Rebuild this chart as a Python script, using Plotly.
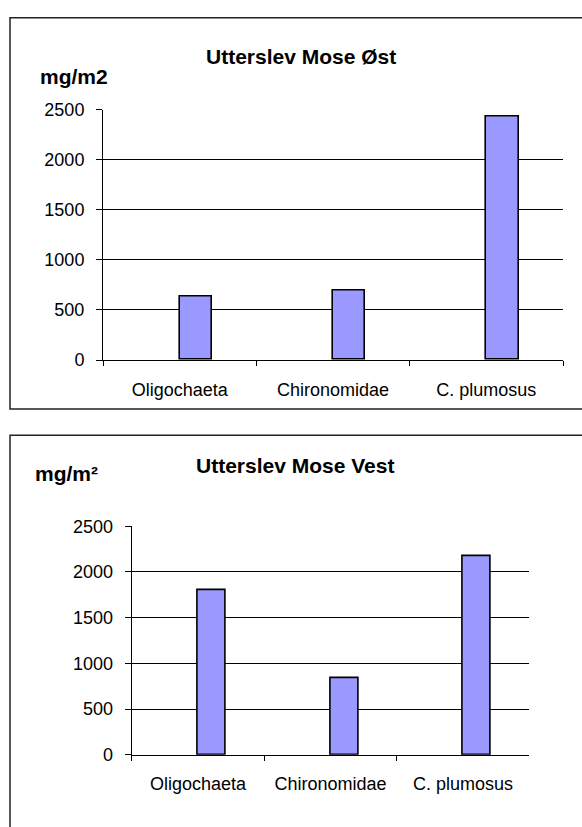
import plotly.graph_objects as go

# data
categories = ["Oligochaeta", "Chironomidae", "C. plumosus"]
ost_values = [637, 691, 2432]
vest_values = [1803, 843, 2177]
y_ticks = [0, 500, 1000, 1500, 2000, 2500]

W, H = 582, 827
FONT = "Liberation Sans, Arial, sans-serif"


def px(x):
    return x / W


def py(y):
    return 1 - y / H


fig = go.Figure()

fig.add_trace(go.Bar(
    x=categories, y=ost_values, xaxis="x", yaxis="y",
    width=0.21, offset=0,
    marker=dict(color="#9999FF", line=dict(color="black", width=1.6)),
    showlegend=False, hoverinfo="skip",
))
fig.add_trace(go.Bar(
    x=categories, y=vest_values, xaxis="x2", yaxis="y2",
    width=0.21, offset=0,
    marker=dict(color="#9999FF", line=dict(color="black", width=1.6)),
    showlegend=False, hoverinfo="skip",
))

xaxis_style = dict(
    type="category", range=[-0.5, 2.5],
    showline=True, linecolor="black", linewidth=1,
    ticks="outside", tickson="boundaries", ticklen=5, tickcolor="black",
    showgrid=False, tickfont=dict(family=FONT, size=18, color="black"),
    ticklabelstandoff=13, fixedrange=True,
)
yaxis_style = dict(
    range=[0, 2500], tickvals=y_ticks,
    showline=True, linecolor="black", linewidth=1,
    ticks="outside", ticklen=6, tickcolor="black",
    showgrid=True, gridcolor="black", gridwidth=1, zeroline=False,
    tickfont=dict(family=FONT, size=18, color="black"),
    ticklabelstandoff=8, fixedrange=True,
)

fig.update_layout(
    width=W, height=H,
    margin=dict(l=0, r=0, t=0, b=0),
    paper_bgcolor="white", plot_bgcolor="white",
    bargap=0,
    xaxis=dict(xaxis_style, domain=[px(103), px(563)], anchor="y"),
    yaxis=dict(yaxis_style, domain=[py(358.7), py(102)], anchor="x"),
    xaxis2=dict(xaxis_style, domain=[px(131.7), px(529.3)], anchor="y2"),
    yaxis2=dict(yaxis_style, domain=[py(763.3), py(529)], anchor="x2"),
)

# frames around the two charts
fig.add_shape(type="rect", xref="paper", yref="paper",
              x0=px(10), x1=px(590), y0=py(409), y1=py(8),
              line=dict(color="#222222", width=1.5))
fig.add_shape(type="rect", xref="paper", yref="paper",
              x0=px(10), x1=px(590), y0=py(900), y1=py(435.7),
              line=dict(color="#222222", width=1.5))

# titles and units
fig.add_annotation(text="<b>Utterslev Mose Øst</b>", xref="paper", yref="paper",
                   x=px(301), y=py(34), showarrow=False,
                   font=dict(family=FONT, size=21, color="black"))
fig.add_annotation(text="<b>mg/m2</b>", xref="paper", yref="paper",
                   x=px(38), y=py(54), xanchor="left", showarrow=False,
                   font=dict(family=FONT, size=21, color="black"))
fig.add_annotation(text="<b>Utterslev Mose Vest</b>", xref="paper", yref="paper",
                   x=px(295), y=py(467), showarrow=False,
                   font=dict(family=FONT, size=21, color="black"))
fig.add_annotation(text="<b>mg/m²</b>", xref="paper", yref="paper",
                   x=px(33), y=py(475), xanchor="left", showarrow=False,
                   font=dict(family=FONT, size=21, color="black"))

fig.write_html("out.html", config={"displayModeBar": False},
               post_script="document.body.style.margin='0';document.body.style.overflow='hidden';")
